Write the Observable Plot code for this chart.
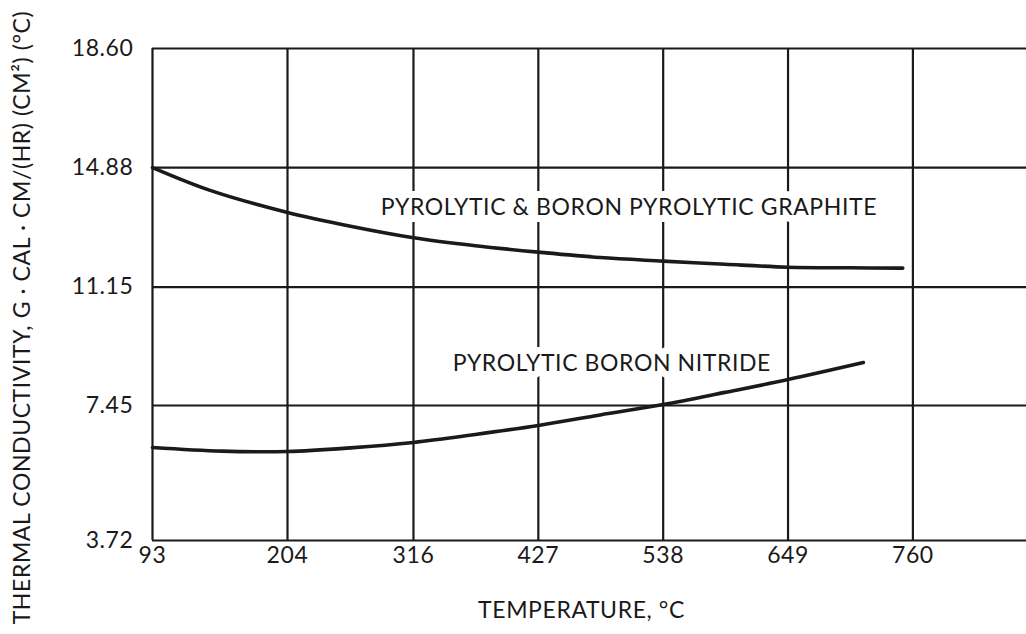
<!DOCTYPE html>
<html>
<head>
<meta charset="utf-8">
<script src="https://cdn.jsdelivr.net/npm/d3@7"></script>
<script src="https://cdn.jsdelivr.net/npm/@observablehq/plot@0.6"></script>
<style>
  html, body { margin: 0; padding: 0; background: #fff; }
  #chart svg { display: block; }
</style>
</head>
<body>
<div id="chart"></div>
<script>
// ---- Data ----
const xTicks = [93, 204, 316, 427, 538, 649, 760];       // temperature, °C
const yTicks = [3.72, 7.45, 11.15, 14.88, 18.60];        // thermal conductivity

const graphiteTemp = [93, 141, 204, 260, 316, 371, 427, 482, 538, 593, 649, 704, 751];
const graphiteCond = [14.88, 14.16, 13.48, 13.05, 12.69, 12.44, 12.24, 12.07, 11.96, 11.86, 11.77, 11.75, 11.74];

const nitrideTemp = [93, 150, 204, 260, 316, 371, 427, 482, 538, 593, 649, 716];
const nitrideCond = [6.29, 6.19, 6.18, 6.28, 6.43, 6.65, 6.90, 7.19, 7.48, 7.86, 8.26, 8.79];

const seriesNames = ["PYROLYTIC & BORON PYROLYTIC GRAPHITE", "PYROLYTIC BORON NITRIDE"];
const xTitle = "TEMPERATURE, °C";
const yTitle = "THERMAL CONDUCTIVITY, G · CAL · CM/(HR) (CM²) (°C)";

// label anchor points in data units
const labelTemp = [287, 351];
const labelCond = [13.63, 8.76];

// ---- Build tables ----
const graphite = graphiteTemp.map((t, i) => ({t, k: graphiteCond[i]}));
const nitride = nitrideTemp.map((t, i) => ({t, k: nitrideCond[i]}));
const labels = seriesNames.map((name, i) => ({name, t: labelTemp[i], k: labelCond[i]}));

const ink = "#1a1a1a";
const font = "Lato, 'Noto Sans', sans-serif";

const chart = Plot.plot({
  width: 1026,
  height: 634,
  marginLeft: 152,
  marginRight: 0,
  marginTop: 48,
  marginBottom: 94,
  style: {fontFamily: font, fontSize: "23px", color: ink, background: "#fff", letterSpacing: "0.6px"},
  x: {type: "linear", domain: [93, 204, 861], range: [152, 287, 1026], axis: null},
  y: {type: "linear", domain: [3.72, 7.45, 18.60], range: [540, 405, 48], axis: null},
  marks: [
    Plot.ruleX(xTicks, {x: d => d, stroke: ink, strokeWidth: 2.2}),
    Plot.ruleY(yTicks, {y: d => d, stroke: ink, strokeWidth: 2.2}),
    Plot.text(labels, {
      x: "t", y: "k", text: "name", textAnchor: "start",
      fill: ink, stroke: "white", strokeWidth: 14, fontSize: 23
    }),
    Plot.line(graphite, {x: "t", y: "k", curve: "catmull-rom", stroke: ink, strokeWidth: 3.6, strokeLinecap: "round"}),
    Plot.line(nitride, {x: "t", y: "k", curve: "catmull-rom", stroke: ink, strokeWidth: 3.6, strokeLinecap: "round"}),
    // tick labels
    Plot.text(xTicks, {x: d => d, frameAnchor: "bottom", dy: 22, textAnchor: "middle", text: d => String(d), fill: ink, fontSize: 23}),
    Plot.text(yTicks, {y: d => d, frameAnchor: "left", dx: -19, textAnchor: "end", text: d => d.toFixed(2), fill: ink, fontSize: 23}),
    // axis titles
    Plot.text([xTitle], {frameAnchor: "bottom", dx: -8, dy: 77, textAnchor: "middle", text: d => d, fill: ink, fontSize: 23}),
    Plot.text([yTitle], {frameAnchor: "left", dx: -130, dy: 23, rotate: -90, textAnchor: "middle", text: d => d, fill: ink, fontSize: 23})
  ]
});

document.getElementById("chart").appendChild(chart);
</script>
</body>
</html>
